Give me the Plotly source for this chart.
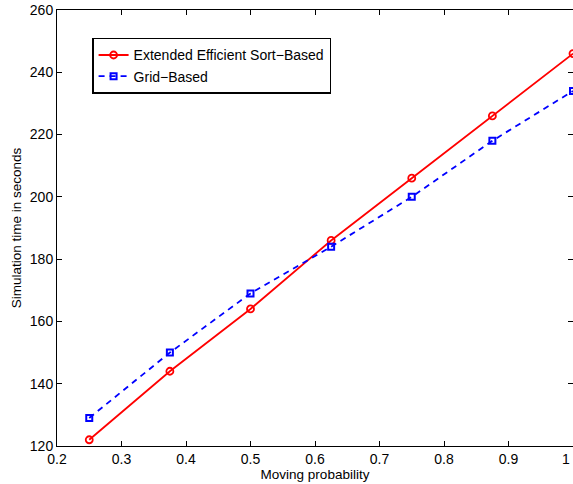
import plotly.graph_objects as go

prob = [0.25, 0.375, 0.5, 0.625, 0.75, 0.875, 1.0]
sort_based = [122, 144, 164, 186, 206, 226, 246]
grid_based = [129, 150, 169, 184, 200, 218, 234]
x_ticks = [0.2, 0.3, 0.4, 0.5, 0.6, 0.7, 0.8, 0.9, 1.0]
x_tick_text = ["0.2", "0.3", "0.4", "0.5", "0.6", "0.7", "0.8", "0.9", "1"]
y_ticks = [120, 140, 160, 180, 200, 220, 240, 260]

FONT = "Liberation Sans, Arial, sans-serif"

fig = go.Figure()
fig.add_trace(go.Scatter(
    x=prob, y=sort_based, mode="lines+markers",
    name="Extended Efficient Sort\u2212Based",
    line=dict(color="#ff0000", width=1.8),
    marker=dict(symbol="circle-open", size=7, color="#ff0000", line=dict(width=1.8)),
    cliponaxis=False,
))
fig.add_trace(go.Scatter(
    x=prob, y=grid_based, mode="lines+markers",
    name="Grid\u2212Based",
    line=dict(color="#0000ff", width=1.8, dash="6px,5px"),
    marker=dict(symbol="square-open", size=6, color="#0000ff", line=dict(width=2)),
    cliponaxis=False,
))

axis_common = dict(
    showgrid=False, zeroline=False, showline=True, linecolor="black", linewidth=1,
    mirror="ticks", ticks="inside", ticklen=5, tickcolor="black", tickwidth=1,
    tickfont=dict(family=FONT, size=14, color="black"),
)

fig.update_layout(
    width=573, height=484,
    margin=dict(l=57, r=0, t=10, b=38),
    paper_bgcolor="white", plot_bgcolor="white",
    font=dict(family=FONT, color="black"),
    xaxis=dict(range=[0.2, 1.0], tickvals=x_ticks, ticktext=x_tick_text,
               title=dict(text="Moving probability", font=dict(size=13.5), standoff=0),
               **axis_common),
    yaxis=dict(range=[120, 260], tickvals=y_ticks,
               title=dict(text="Simulation time in seconds", font=dict(size=13.5), standoff=5),
               **axis_common),
    legend=dict(x=0.068, y=0.936, xanchor="left", yanchor="top",
                bgcolor="white", bordercolor="black", borderwidth=1.5,
                font=dict(size=14, color="black"), tracegroupgap=0,
                itemwidth=30),
    showlegend=True,
)

# last x tick label, kept just inside the right edge
fig.add_annotation(x=x_ticks[-1], y=0, xref="x", yref="paper", text=x_tick_text[-1],
                   showarrow=False, yanchor="top", xanchor="right", yshift=-3, xshift=-1,
                   font=dict(family=FONT, size=14, color="black"))

fig.write_html(
    "out.html",
    config={"displayModeBar": False},
    post_script="document.body.style.margin='0';document.body.style.overflow='hidden';",
)
